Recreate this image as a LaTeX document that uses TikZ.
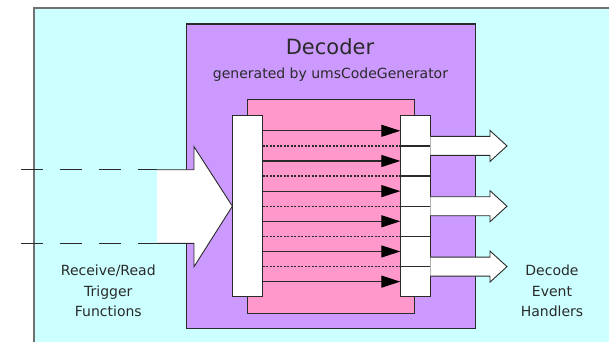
\documentclass[tikz,border=0pt]{standalone}
\usepackage{fontspec}
\setmainfont{DejaVu Sans}
\usetikzlibrary{arrows.meta}
\definecolor{bgcyan}{HTML}{CCFFFF}
\definecolor{decpurple}{HTML}{CC99FF}
\definecolor{decpink}{HTML}{FF99CC}
\definecolor{ink}{HTML}{2A2A2A}
\definecolor{frame}{HTML}{707070}
\tikzset{
  box/.style={draw=ink, line width=1.3pt, inner sep=0pt, outer sep=0pt, anchor=north west},
  whitebox/.style={box, fill=white},
  lbl/.style={font=\fontsize{14}{16}\selectfont, text=ink, anchor=base, inner sep=0pt},
  flow/.style={draw=ink, line width=1.2pt, -{Triangle[length=19pt,width=12pt,fill=black,color=black]}},
  dotline/.style={draw=ink, line width=1.3pt, dash pattern=on 2pt off 1.5pt},
  fatarrow/.style={draw=ink, line width=0.9pt, fill=white, line join=miter},
  dashin/.style={draw=ink, line width=1.3pt, dash pattern=on 22pt off 17pt}
}
\begin{document}
\begin{tikzpicture}[x=1pt,y=-1pt]
\useasboundingbox (0,0) rectangle (609,341);
\fill[white] (0,0) rectangle (609,341);
% outer area
\path[fill=bgcyan, draw=frame, line width=2pt] (34.3,8.3) rectangle (640,370);
% decoder box
\node[box, fill=decpurple, minimum width=288.8pt, minimum height=304.3pt] (decoder) at (186.7,24) {};
\node[box, fill=decpink, minimum width=167pt, minimum height=214pt] (core) at (247.7,99.3) {};
% titles
\node[font=\fontsize{21}{24}\selectfont, text=ink, anchor=base, inner sep=0pt] (title) at (330,54) {Decoder};
\node[lbl] (subtitle) at (330.5,78.3) {generated by umsCodeGenerator};
% big input arrow
\fill[white] (157,169.7) rectangle (194,243.3);
\path[fatarrow] (157,169.7) -- (194,169.7) -- (194,146.7) -- (232.4,206.2) -- (194,266.7) -- (194,243.3) -- (157,243.3);
\coordinate (inA) at (21,169.7);
\coordinate (inAe) at (157,169.7);
\coordinate (inB) at (21,243.3);
\coordinate (inBe) at (157,243.3);
\draw[dashin] (inA) -- (inAe);
\draw[dashin] (inB) -- (inBe);
% bars
\node[whitebox, minimum width=30pt, minimum height=181pt] (inbar) at (232.7,115.7) {};
\foreach \i in {1,...,6}{
  \node[whitebox, minimum width=30pt, minimum height=30.17pt] (cell\i) at (400.3,{115.7+30.17*(\i-1)}) {};
}
% flows
\foreach \i in {1,...,6}{
  \draw[flow] (inbar.east |- cell\i.west) -- (cell\i.west);
}
\foreach \i in {1,...,5}{
  \draw[dotline] (inbar.east |- cell\i.south west) -- (cell\i.south west);
}
% output arrows
\foreach \i/\c in {1/145.9,3/206.2,5/266.6}{
  \path[fatarrow] (430.3,\c-9.5) -- (490,\c-9.5) -- (490,\c-15.5) -- (507,\c) -- (490,\c+15.5) -- (490,\c+9.5) -- (430.3,\c+9.5);
}
% labels
\node[lbl] (inl1) at (108.3,275.7) {Receive/Read};
\node[lbl] (inl2) at (108.3,296.4) {Trigger};
\node[lbl] (inl3) at (108.3,316.7) {Functions};
\node[lbl] (outl1) at (552,275.3) {Decode};
\node[lbl] (outl2) at (552,296) {Event};
\node[lbl] (outl3) at (552,316.7) {Handlers};
\end{tikzpicture}
\end{document}
